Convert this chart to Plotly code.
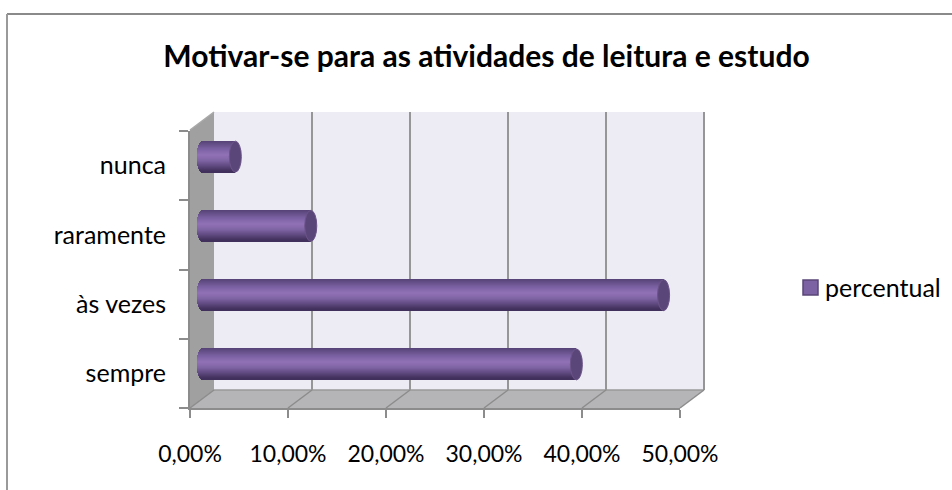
import math
import plotly.graph_objects as go

categories = ["sempre", "às vezes", "raramente", "nunca"]
values = [38.2, 47.1, 11.1, 3.4]
x_ticks = [0, 10, 20, 30, 40, 50]
x_tick_labels = ["0,00%", "10,00%", "20,00%", "30,00%", "40,00%", "50,00%"]
series_name = "percentual"
title_text = "Motivar-se para as atividades de leitura e estudo"

W, H = 952, 490
FONT = "Lato, Carlito, Calibri, sans-serif"
EDGE = "#8c8c8c"
GRID = "#969696"


def px(x):
    return x / W


def py(y):
    return 1 - y / H


def dom_x(a, b):
    return [px(a), px(b)]


def dom_y(top, bottom):
    return [py(bottom), py(top)]


def line(x0, y0, x1, y1, color=EDGE, width=2):
    return dict(type="line", xref="paper", yref="paper", x0=px(x0), y0=py(y0), x1=px(x1), y1=py(y1),
                line=dict(color=color, width=width), layer="below")


def poly(points, fill, edge=None):
    p = "M" + " L".join(f"{px(a):.5f},{py(b):.5f}" for a, b in points) + " Z"
    ln = dict(width=0) if edge is None else dict(color=edge, width=1.5)
    return dict(type="path", xref="paper", yref="paper", path=p, fillcolor=fill, line=ln, layer="below")


# Front (labelled) axes, back-wall axes and mid-depth axes that carry the bars
FRONT_L, FRONT_R, FRONT_T, FRONT_B = 190, 680, 131, 408
BACK_L, BACK_R, BACK_T, BACK_B = 214, 704, 112, 390
BAR_L, BAR_R, BAR_T, BAR_B = 202, 692, 122, 399
BAR_PAD = 12  # room to the left of zero for the rounded base

shapes = [
    line(7, 14, 952, 14, "#8a8a8a", 2),
    line(7, 14, 7, 490, "#9a9a9a", 2),
    poly([(BACK_L, BACK_T), (BACK_R, BACK_T), (BACK_R, BACK_B), (BACK_L, BACK_B)], "#edebf3"),
    poly([(FRONT_L, FRONT_B), (FRONT_R, FRONT_B), (BACK_R, BACK_B), (BACK_L, BACK_B)], "#b5b4b7"),
    poly([(FRONT_L, 130), (BACK_L, BACK_T), (BACK_L, BACK_B), (FRONT_L, FRONT_B)], "#a0a0a0"),
    line(FRONT_L, 130, BACK_L, BACK_T, "#a8a8a8", 1.5),
    line(BACK_L, BACK_B, BACK_R, BACK_B, "#9a9a9a", 1.5),
    line(BACK_R, BACK_T, BACK_R, BACK_B, GRID, 2),
    # legend swatch
    dict(type="rect", xref="paper", yref="paper", x0=px(803), x1=px(818), y0=py(295), y1=py(280),
         fillcolor="#7d62a3", line=dict(color="#5a4577", width=1.5), layer="above"),
]
for t in x_ticks:
    f = FRONT_L + (FRONT_R - FRONT_L) * t / x_ticks[-1]
    b = BACK_L + (BACK_R - BACK_L) * t / x_ticks[-1]
    shapes.append(line(f, FRONT_B, b, BACK_B, EDGE, 1.5))

STOPS = [(0.0, (86, 66, 118)), (0.08, (98, 76, 132)), (0.28, (125, 99, 165)), (0.45, (145, 113, 183)),
         (0.62, (128, 101, 165)), (0.82, (92, 71, 124)), (0.94, (70, 52, 98)), (1.0, (62, 46, 88))]


def strip_color(t):
    for (a, ca), (b, cb) in zip(STOPS, STOPS[1:]):
        if a <= t <= b:
            k = (t - a) / (b - a)
            r, g, bl = (round(u + (v - u) * k) for u, v in zip(ca, cb))
            return f"rgb({r},{g},{bl})"
    return "rgb(62,46,88)"


fig = go.Figure()

# Main axes: front labelled frame
fig.add_trace(go.Scatter(x=values, y=categories, mode="markers", marker=dict(opacity=0, size=1),
                         xaxis="x", yaxis="y", showlegend=False, hoverinfo="skip"))
# Back-wall grid
fig.add_trace(go.Scatter(x=values, y=categories, mode="markers", marker=dict(opacity=0, size=1),
                         xaxis="x2", yaxis="y2", showlegend=False, hoverinfo="skip"))

# Cylinder: thin horizontal strips, rounded at the base
BAR_PX = 31
CAT_PX = (BAR_B - BAR_T) / len(categories)
PCT_PER_PX = x_ticks[-1] / (BAR_R - BAR_L)
RX = 5.5
for i in range(BAR_PX):
    t = (i + 0.5) / BAR_PX
    base = -RX * PCT_PER_PX * math.sqrt(max(0, 1 - (2 * t - 1) ** 2))
    fig.add_trace(go.Bar(
        x=[v - base for v in values], y=categories, base=base, orientation="h",
        width=1 / CAT_PX, offset=(BAR_PX / 2 - i - 1) / CAT_PX,
        marker=dict(color=strip_color(t), line=dict(width=0)),
        xaxis="x3", yaxis="y3", showlegend=False, cliponaxis=False, hoverinfo="skip"))

# Legend entry (its swatch is the square drawn among the shapes)
fig.add_trace(go.Scatter(x=[None], y=[None], mode="markers", name=series_name, xaxis="x3", yaxis="y3",
                         marker=dict(symbol="square", size=15, color="rgba(0,0,0,0)", line=dict(width=0))))

# End caps of the cylinders
for i, v in enumerate(values):
    shapes.append(dict(type="circle", xref="x3", yref="y3", xsizemode="pixel", ysizemode="pixel",
                       xanchor=v, yanchor=i, x0=-RX - 0.5, x1=RX + 0.5, y0=-BAR_PX / 2, y1=BAR_PX / 2,
                       fillcolor="#5b4679", line=dict(color="#6b5488", width=1), layer="above"))

x_font = dict(family=FONT, size=23, color="#000000")
y_font = dict(family=FONT, size=25, color="#000000")
fig.update_layout(
    width=W, height=H, autosize=False, margin=dict(l=0, r=0, t=0, b=0, autoexpand=False),
    paper_bgcolor="#ffffff", plot_bgcolor="rgba(0,0,0,0)", barmode="overlay", bargap=0,
    font=dict(family=FONT, color="#000000"),
    title=dict(text=f"<b>{title_text}</b>", x=486.5 / W, xanchor="center", xref="paper",
               y=py(56), yanchor="middle", yref="paper", font=dict(family=FONT, size=30, color="#000000")),
    showlegend=True,
    legend=dict(x=px(785), y=py(287), xanchor="left", yanchor="middle", bgcolor="rgba(0,0,0,0)",
                font=dict(family=FONT, size=25, color="#000000"), itemwidth=30),
    shapes=shapes,
    xaxis=dict(domain=dom_x(FRONT_L, FRONT_R), range=[0, x_ticks[-1]], anchor="y", tickmode="array",
               tickvals=x_ticks, ticktext=x_tick_labels, ticks="outside", ticklen=8, tickwidth=2, tickcolor=EDGE,
               showline=True, linecolor=EDGE, linewidth=2, showgrid=False, zeroline=False,
               tickfont=x_font, ticklabelstandoff=16),
    yaxis=dict(domain=dom_y(FRONT_T, FRONT_B), range=[-0.5, 3.5], anchor="x", type="category",
               categoryorder="array", categoryarray=categories, tickson="boundaries", ticks="outside",
               ticklen=9, tickwidth=2, tickcolor=EDGE, showline=True, linecolor=EDGE, linewidth=2,
               showgrid=False, zeroline=False, tickfont=y_font, ticklabelstandoff=17),
    xaxis2=dict(domain=dom_x(BACK_L, BACK_R), range=[0, x_ticks[-1]], anchor="y2", tickmode="array",
                tickvals=x_ticks, showticklabels=False, ticks="", showgrid=True, gridcolor=GRID, gridwidth=2,
                zeroline=False, showline=False),
    yaxis2=dict(domain=dom_y(BACK_T, BACK_B), range=[-0.5, 3.5], anchor="x2", type="category",
                categoryorder="array", categoryarray=categories, showticklabels=False, ticks="",
                showgrid=False, zeroline=False, showline=False),
    xaxis3=dict(domain=dom_x(BAR_L - BAR_PAD, BAR_R), range=[-BAR_PAD * PCT_PER_PX, x_ticks[-1]], anchor="y3",
                visible=False),
    yaxis3=dict(domain=dom_y(BAR_T, BAR_B), range=[-0.5, 3.5], anchor="x3", type="category",
                categoryorder="array", categoryarray=categories, visible=False),
)

fig.write_html("out.html", config=dict(displayModeBar=False),
               post_script="document.body.style.margin='0';document.body.style.overflow='hidden';")
